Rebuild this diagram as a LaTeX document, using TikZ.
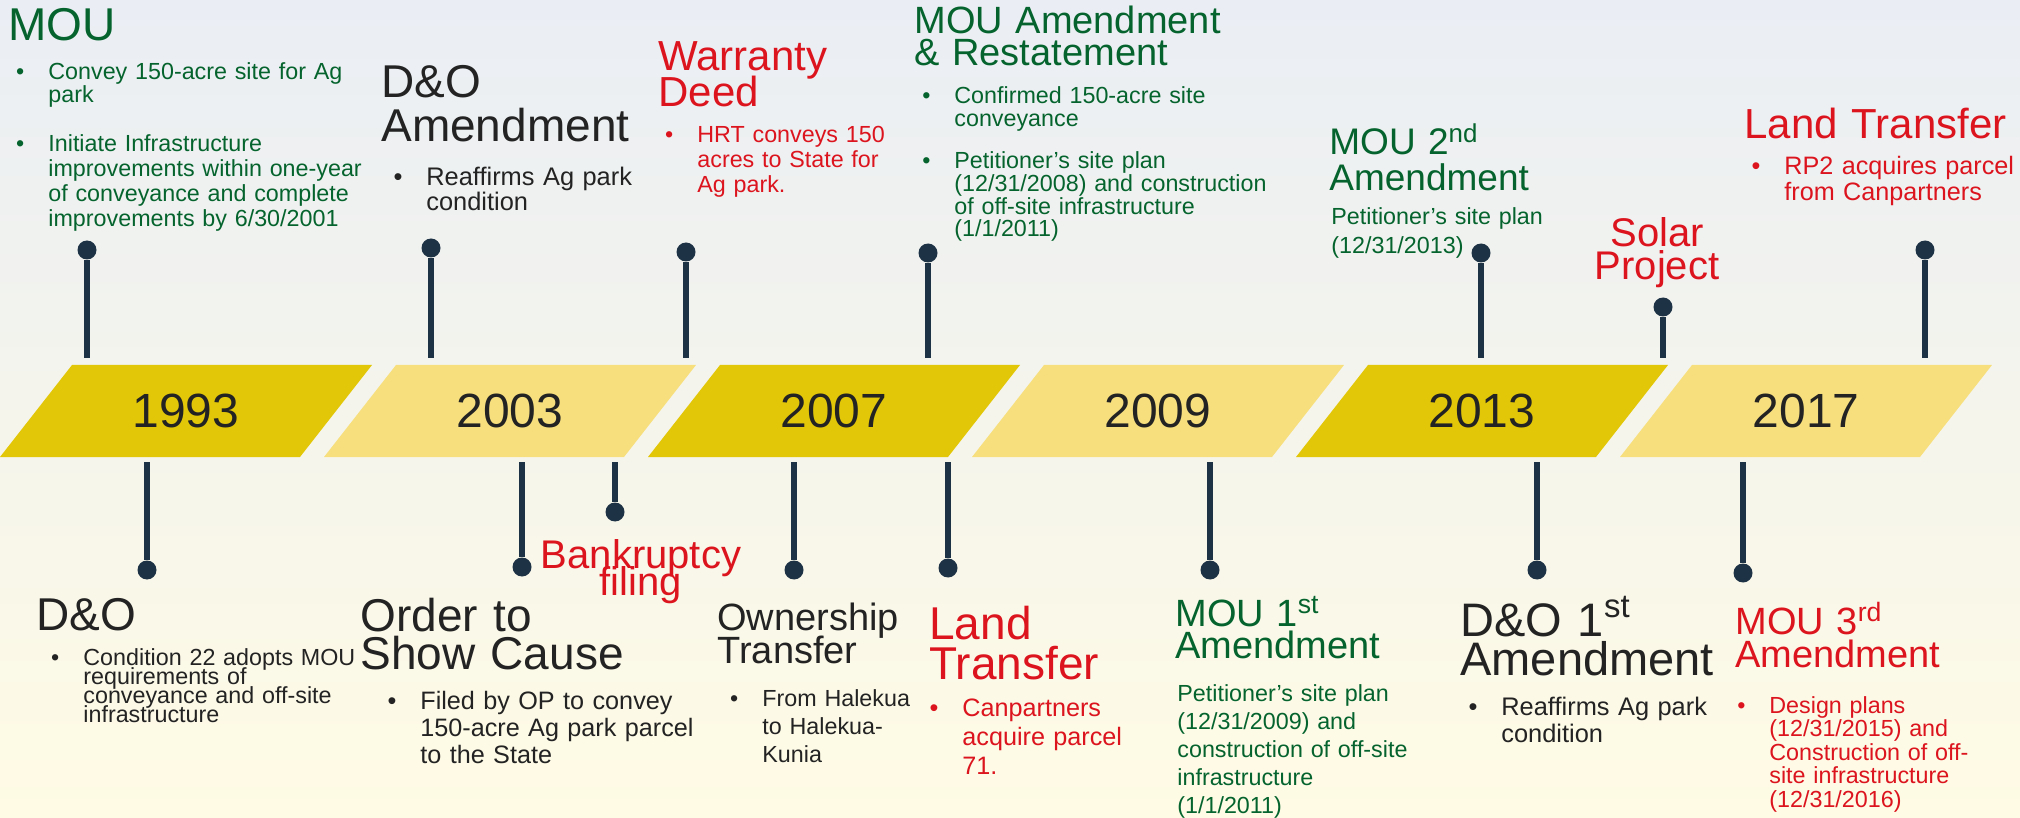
\documentclass[tikz,border=0pt]{standalone}
\usepackage{fontspec}
\setmainfont{Liberation Sans}
\newcommand\fs[2]{\fontsize{#1pt}{#2pt}\selectfont}
\newcommand\bul{\leavevmode\llap{\textbullet\hspace{12pt}}}
\begin{document}
\begin{tikzpicture}[x=0.5pt, y=-0.5pt]
	\definecolor{gold}{RGB}{226, 198, 8}
	\definecolor{sand}{RGB}{247, 223, 126}
	\definecolor{navy}{RGB}{30, 50, 70}
	\definecolor{leaf}{RGB}{5, 100, 45}
	\definecolor{brick}{RGB}{220, 20, 30}
	\definecolor{ink}{RGB}{35, 35, 35}
	\definecolor{fog}{RGB}{234, 238, 244}
	\definecolor{cream}{RGB}{255, 251, 228}
	\tikzset{
		tight/.style={execute at begin node={\lineskiplimit=-100pt\relax}},
		head/.style={tight, anchor=base west, inner sep=0pt, text width=135pt, align=left, font=\fs{23}{21}},
		midhead/.style={tight, anchor=base, inner sep=0pt, text width=106pt, align=center},
		txt/.style={tight, anchor=base west, inner sep=0pt, text width=120pt, align=left, font=\fs{11.65}{12.5}},
		year/.style={inner sep=0pt, text=ink, font=\fs{24}{24}},
		dot/.style={circle, fill=navy, inner sep=0pt, minimum size=9.5pt},
		stem/.style={navy, line width=3pt}
	}
	\useasboundingbox (0, 0) rectangle (2020, 818);
	\shade[top color=fog, bottom color=cream] (0, 0) rectangle (2020, 818);
	\coordinate (top) at (0, 358);
	\coordinate (bot) at (0, 462);

	% year bands
	\foreach \yr/\col [count=\i from 0] in {1993/gold, 2003/sand, 2007/gold, 2009/sand, 2013/gold, 2017/sand}{
		\fill[\col] (324 * \i, 457) -- ++(300, 0) -- ++(72, -92) -- ++(-300, 0) -- cycle;
		\node[year] (y\yr) at (324 * \i + 186, 411) {\yr};
	}

	% pins above and below
	\foreach \n/\x/\y in {pmou/87/250, pdoa/431/248, pwd/686/252, pmar/928/253, pmou2/1481/253, psolar/1663/307, plt/1925/250}{
		\node[dot] (\n) at (\x, \y) {};
		\draw[stem] (\n) -- (\n |- top);
	}
	\foreach \n/\x/\y in {pdo/147/570, posc/522/567, pbk/615/512, pot/794/570, pltb/948/568, pmou1/1210/570, pdo1/1537/570, pmou3/1743/573}{
		\node[dot] (\n) at (\x, \y) {};
		\draw[stem] (\n) -- (\n |- bot);
	}

	% top events
	\node[head, text=leaf] (mouT) at (8, 41) {MOU};
	\node[txt, text=leaf, text width=160pt, font=\fs{11.65}{11.5}] (mouA) at (48, 80) {\bul Convey 150-acre site for Ag\\park};
	\node[txt, text=leaf, text width=160pt] (mouB) at (48, 152) {\bul Initiate Infrastructure\\improvements within one-year\\of conveyance and complete\\improvements by 6/30/2001};
	\node[head, text=ink, font=\fs{23}{22}] (doaT) at (381, 98) {D\&O\\Amendment};
	\node[txt, text=ink, text width=110pt, font=\fs{12.7}{12.5}] (doaA) at (426, 186) {\bul Reaffirms Ag park\\condition};
	\node[head, text=brick, text width=100pt, font=\fs{21}{18}] (wdT) at (658, 71) {Warranty\\Deed};
	\node[txt, text=brick, text width=104pt] (wdA) at (697, 143) {\bul HRT conveys 150\\acres to State for\\Ag park.};
	\node[head, text=leaf, text width=160pt, font=\fs{19}{16}] (marT) at (914, 34) {MOU Amendment\\\& Restatement};
	\node[txt, text=leaf, text width=160pt, font=\fs{11.65}{11.3}] (marA) at (954, 104) {\bul Confirmed 150-acre site\\conveyance};
	\node[txt, text=leaf, text width=160pt, font=\fs{11.65}{11.3}] (marB) at (954, 169) {\bul Petitioner’s site plan\\(12/31/2008) and construction\\of off-site infrastructure\\(1/1/2011)};
	\node[head, text=leaf, text width=120pt, font=\fs{18.5}{18}] (mou2T) at (1329, 155) {MOU 2\textsuperscript{nd}\\Amendment};
	\node[txt, text=leaf, text width=112pt, font=\fs{11.65}{14.5}] (mou2A) at (1331, 225) {Petitioner’s site plan\\(12/31/2013)};
	\node[midhead, text=brick, text width=80pt, font=\fs{20}{16.5}] (solarT) at (1657, 247) {Solar\\Project};
	\node[head, text=brick, font=\fs{21}{21}] (ltT) at (1744, 139) {Land Transfer};
	\node[txt, text=brick, text width=125pt, font=\fs{12.6}{13}] (ltA) at (1784, 175) {\bul RP2 acquires parcel\\from Canpartners};

	% bottom events
	\node[head, text=ink] (doT) at (36, 630) {D\&O};
	\node[txt, text=ink, text width=138pt, font=\fs{11.65}{9.6}] (doA) at (83, 665) {\bul Condition 22 adopts MOU\\requirements of\\conveyance and off-site\\infrastructure};
	\node[head, text=ink, text width=134pt, font=\fs{23}{19}] (oscT) at (360, 631) {Order to\\Show Cause};
	\node[txt, text=ink, text width=140pt, font=\fs{12.6}{13.5}] (oscA) at (420, 709) {\bul Filed by OP to convey\\150-acre Ag park parcel\\to the State};
	\node[midhead, text=brick, font=\fs{20}{13.5}] (bkT) at (641, 568) {Bankruptcy\\filing};
	\node[head, text=ink, text width=100pt, font=\fs{19}{16.5}] (otT) at (717, 630) {Ownership\\Transfer};
	\node[txt, text=ink, text width=82pt, font=\fs{11.65}{14}] (otA) at (762, 706) {\bul From Halekua\\to Halekua-\\Kunia};
	\node[head, text=brick, text width=100pt, font=\fs{23}{20}] (ltbT) at (929, 639) {Land\\Transfer};
	\node[txt, text=brick, text width=88pt, font=\fs{12.6}{14.5}] (ltbA) at (962, 716) {\bul Canpartners\\acquire parcel\\71.};
	\node[head, text=leaf, text width=110pt, font=\fs{19}{16}] (mou1T) at (1175, 626) {MOU 1\textsuperscript{st}\\Amendment};
	\node[txt, text=leaf, font=\fs{11.65}{14}] (mou1A) at (1177, 701) {Petitioner’s site plan\\(12/31/2009) and\\construction of off-site\\infrastructure\\(1/1/2011)};
	\node[head, text=ink, font=\fs{23.5}{19.5}] (do1T) at (1460, 636) {D\&O 1\textsuperscript{st}\\Amendment};
	\node[txt, text=ink, text width=110pt, font=\fs{12.7}{13.5}] (do1A) at (1501, 715) {\bul Reaffirms Ag park\\condition};
	\node[head, text=brick, text width=110pt, font=\fs{19}{16.5}] (mou3T) at (1735, 634) {MOU 3\textsuperscript{rd}\\Amendment};
	\node[txt, text=brick, text width=110pt, font=\fs{11.65}{11.8}] (mou3A) at (1769, 713) {\bul Design plans\\(12/31/2015) and\\Construction of off-\\site infrastructure\\(12/31/2016)};
\end{tikzpicture}
\end{document}
